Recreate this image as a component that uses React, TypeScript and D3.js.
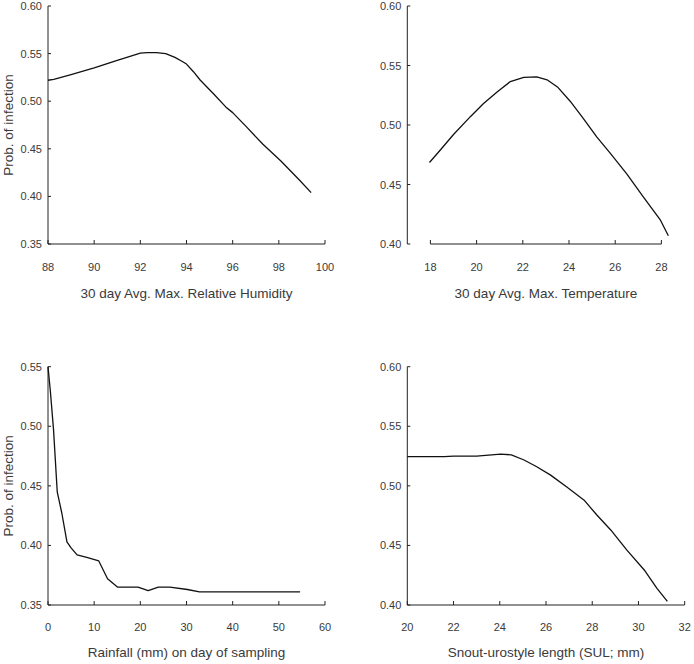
import React from "react";
import * as d3 from "d3";

// Panel 1: relative humidity
const rhX = [88, 88.25, 89, 90, 91, 92, 92.3, 92.7, 93.1, 93.5, 93.8, 94, 94.3, 94.6, 95.2, 95.7, 96, 96.6, 97.3, 98.1, 98.9, 99.4];
const rhY = [0.522, 0.523, 0.528, 0.535, 0.543, 0.5505, 0.551, 0.551, 0.550, 0.546, 0.542, 0.539, 0.531, 0.522, 0.507, 0.494, 0.488, 0.473, 0.455, 0.437, 0.417, 0.404];
const rhXTicks = [88, 90, 92, 94, 96, 98, 100];
const rhYTicks = [0.35, 0.40, 0.45, 0.50, 0.55, 0.60];

// Panel 2: temperature
const tX = [17.96, 18.43, 19.0, 19.73, 20.3, 20.9, 21.46, 22.04, 22.6, 23.05, 23.5, 24.05, 24.6, 25.2, 25.8, 26.5, 27.2, 27.96, 28.3];
const tY = [0.4685, 0.479, 0.492, 0.507, 0.518, 0.528, 0.5365, 0.540, 0.5405, 0.538, 0.532, 0.520, 0.506, 0.490, 0.476, 0.459, 0.440, 0.420, 0.407];
const tXTicks = [18, 20, 22, 24, 26, 28];
const tYTicks = [0.40, 0.45, 0.50, 0.55, 0.60];

// Panel 3: rainfall
const rfX = [0, 0.5, 1.2, 2.0, 3.0, 4.1, 5.0, 6.3, 8.4, 11.0, 12.9, 15.1, 19.5, 21.7, 23.9, 26.4, 30.2, 32.8, 54.6];
const rfY = [0.55, 0.53, 0.497, 0.445, 0.427, 0.403, 0.398, 0.392, 0.390, 0.387, 0.372, 0.365, 0.365, 0.362, 0.365, 0.365, 0.363, 0.361, 0.361];
const rfXTicks = [0, 10, 20, 30, 40, 50, 60];
const rfYTicks = [0.35, 0.40, 0.45, 0.50, 0.55];

// Panel 4: SUL
const sX = [20, 21.6, 22.0, 23.0, 24.04, 24.5, 25.05, 25.6, 26.2, 26.9, 27.65, 28.2, 28.8, 29.5, 30.25, 30.8, 31.25];
const sY = [0.5245, 0.5245, 0.525, 0.525, 0.5267, 0.526, 0.5217, 0.516, 0.509, 0.499, 0.488, 0.4755, 0.463, 0.446, 0.4294, 0.414, 0.403];
const sXTicks = [20, 22, 24, 26, 28, 30, 32];
const sYTicks = [0.40, 0.45, 0.50, 0.55, 0.60];

const FONT = "'Liberation Sans', Arial, sans-serif";
const TXT = "#3a3a3a";

type PanelProps = {
  xs: number[]; ys: number[];
  xDomain: [number, number]; xRange: [number, number];
  yDomain: [number, number]; yRange: [number, number];
  xTicks: number[]; yTicks: number[];
  xTickFmt: (v: number) => string;
  xTitle: string; yTitle?: string;
  xTitleY: number; xLabelY: number; yTitleX: number;
};

function Panel(p: PanelProps) {
  const x = d3.scaleLinear().domain(p.xDomain).range(p.xRange);
  const y = d3.scaleLinear().domain(p.yDomain).range(p.yRange);
  const pts: [number, number][] = p.xs.map((v, i) => [v, p.ys[i]]);
  const line = d3.line<[number, number]>().x(d => x(d[0])).y(d => y(d[1])).curve(d3.curveLinear);
  const x0 = x(p.xTicks[0]);
  const x1 = x(p.xTicks[p.xTicks.length - 1]);
  const yb = y(p.yTicks[0]);
  const yt = y(p.yTicks[p.yTicks.length - 1]);
  const ax = p.xRange[0];
  const xc = (x0 + x1) / 2;
  return (
    <g>
      <line x1={ax} x2={ax} y1={yt} y2={yb} stroke="#222" strokeWidth={1} />
      <line x1={x0} x2={x1} y1={yb} y2={yb} stroke="#222" strokeWidth={1} />
      {p.yTicks.map(t => (
        <g key={"y" + t}>
          <line x1={ax} x2={ax + 3} y1={y(t)} y2={y(t)} stroke="#222" strokeWidth={1} />
          <text x={ax - 6} y={y(t) + 4} textAnchor="end" fontSize={11} fontFamily={FONT} fill={TXT}>{t.toFixed(2)}</text>
        </g>
      ))}
      {p.xTicks.map(t => (
        <g key={"x" + t}>
          <line x1={x(t)} x2={x(t)} y1={yb} y2={yb - 4} stroke="#222" strokeWidth={1} />
          <text x={x(t)} y={p.xLabelY} textAnchor="middle" fontSize={11} fontFamily={FONT} fill={TXT}>{p.xTickFmt(t)}</text>
        </g>
      ))}
      <path d={line(pts) || ""} fill="none" stroke="#111" strokeWidth={1.3} strokeLinejoin="round" />
      <text x={xc} y={p.xTitleY} textAnchor="middle" fontSize={13.5} fontFamily={FONT} fill={TXT}>{p.xTitle}</text>
      {p.yTitle && (
        <text transform={`translate(${p.yTitleX},${(yt + yb) / 2}) rotate(-90)`} textAnchor="middle" fontSize={13.5} fontFamily={FONT} fill={TXT}>{p.yTitle}</text>
      )}
    </g>
  );
}

export default function App() {
  const f0 = (v: number) => String(v);
  return (
    <svg width={694} height={664} style={{ position: "absolute", left: 0, top: 0, background: "#fff" }}>
      <rect width={694} height={664} fill="#fff" />
      <Panel xs={rhX} ys={rhY} xDomain={[88, 100]} xRange={[48, 325]} yDomain={[0.35, 0.60]} yRange={[244, 6]}
        xTicks={rhXTicks} yTicks={rhYTicks} xTickFmt={f0} xTitle="30 day Avg. Max. Relative Humidity" yTitle="Prob. of infection"
        xTitleY={298} xLabelY={271} yTitleX={13} />
      <Panel xs={tX} ys={tY} xDomain={[17, 29]} xRange={[407.3, 684.5]} yDomain={[0.40, 0.60]} yRange={[244, 6]}
        xTicks={tXTicks} yTicks={tYTicks} xTickFmt={f0} xTitle="30 day Avg. Max. Temperature"
        xTitleY={298} xLabelY={271} yTitleX={0} />
      <Panel xs={rfX} ys={rfY} xDomain={[0, 60]} xRange={[48, 325]} yDomain={[0.35, 0.55]} yRange={[605, 366.7]}
        xTicks={rfXTicks} yTicks={rfYTicks} xTickFmt={f0} xTitle="Rainfall (mm) on day of sampling" yTitle="Prob. of infection"
        xTitleY={657} xLabelY={631} yTitleX={13} />
      <Panel xs={sX} ys={sY} xDomain={[20, 32]} xRange={[407.3, 684.7]} yDomain={[0.40, 0.60]} yRange={[605, 366.7]}
        xTicks={sXTicks} yTicks={sYTicks} xTickFmt={f0} xTitle="Snout-urostyle length (SUL; mm)"
        xTitleY={657} xLabelY={631} yTitleX={0} />
    </svg>
  );
}
